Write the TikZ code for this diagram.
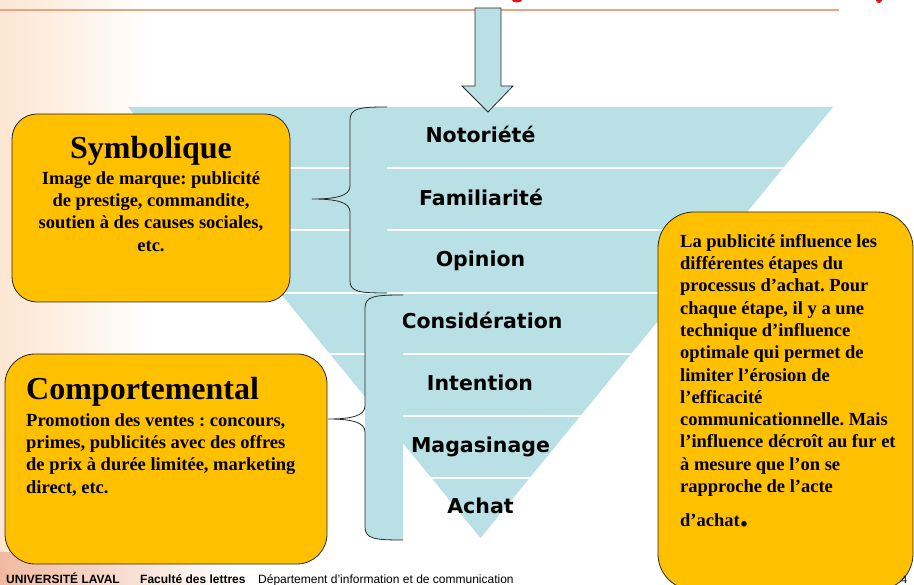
\documentclass[tikz,border=0pt]{standalone}
\usepackage{fontspec}
\setmainfont{Liberation Serif}
\newfontfamily\labfont{DejaVu Sans}
\newfontfamily\footfont{Liberation Sans}
\frenchspacing
\definecolor{funnelblue}{RGB}{185,224,228}
\definecolor{boxfill}{RGB}{255,192,0}
\definecolor{boxline}{RGB}{40,40,40}
\definecolor{salmon}{RGB}{236,163,130}
\definecolor{titlered}{RGB}{220,20,20}
\definecolor{bgA}{RGB}{253,230,210}
\definecolor{bgB}{RGB}{242,185,160}
\tikzset{
  box/.style={draw=boxline, fill=boxfill, line width=0.8pt, inner sep=0pt},
  lab/.style={font=\labfont\bfseries\fontsize{20.5}{24}\selectfont, anchor=base, inner sep=0pt},
  bodytxt/.style={font=\bfseries\fontsize{18.5}{22.3}\selectfont, inner sep=0pt},
  titletxt/.style={font=\bfseries\fontsize{32}{36}\selectfont, inner sep=0pt},
  bracefill/.style={fill=funnelblue},
  bracedraw/.style={draw=boxline, line width=0.8pt},
  arrowstyle/.style={draw=boxline, fill=funnelblue, line width=0.8pt, line join=miter},
  foot/.style={font=\footfont\fontsize{12}{14}\selectfont, inner sep=0pt, anchor=base west}
}
\begin{document}
\begin{tikzpicture}[x=1pt,y=-1pt]
\useasboundingbox (0,0) rectangle (914,585);
\clip (0,0) rectangle (914,585);
% background
\fill[white] (0,0) rectangle (914,585);
\shade[left color=bgA, right color=white] (0,0) rectangle (150,585);
\shade[left color=bgB, right color=white] (0,552) rectangle (240,585);
% top rule and title fragments
\draw[salmon, line width=2.2pt] (0,10) -- (839,10);
\fill[titlered] (517,0) ellipse [x radius=5pt, y radius=2.5pt];
\fill[titlered] (879,0) ellipse [x radius=3pt, y radius=3pt];
% funnel
\coordinate (ftl) at (128,107);
\coordinate (ftr) at (833,107);
\coordinate (fap) at (480.5,538);
\fill[funnelblue] (ftl) -- (ftr) -- (fap) -- cycle;
\begin{scope}
  \clip (ftl) -- (ftr) -- (fap) -- cycle;
  \foreach \yy in {168,230,293,354,416,478}
    \draw[white, line width=2.5pt] (0,\yy) -- (914,\yy);
\end{scope}
% stage labels
\node[lab] (l1) at (480.5,143) {Notoriété};
\node[lab] (l2) at (481,206) {Familiarité};
\node[lab] (l3) at (480.5,267) {Opinion};
\node[lab] (l4) at (482,329) {Considération};
\node[lab] (l5) at (480,391) {Intention};
\node[lab] (l6) at (480.5,453) {Magasinage};
\node[lab] (l7) at (480.5,514) {Achat};
% upper brace
\fill[bracefill] (387,107) .. controls (360,107) and (350,108) .. (350,120)
  -- (350,281) .. controls (350,292) and (360,293) .. (387,293) -- cycle;
\draw[bracedraw] (387,107) .. controls (360,107) and (350,108) .. (350,120)
  -- (350,186) .. controls (350,196) and (336,199) .. (312,199)
  .. controls (336,199) and (350,202) .. (350,212)
  -- (350,281) .. controls (350,292) and (360,293) .. (387,293);
% lower brace
\fill[bracefill] (403,295) .. controls (375,295) and (365,296) .. (365,308)
  -- (365,527) .. controls (365,539) and (375,540) .. (403,540) -- cycle;
\draw[bracedraw] (403,295) .. controls (375,295) and (365,296) .. (365,308)
  -- (365,406) .. controls (365,416) and (351,419) .. (328,419)
  .. controls (351,419) and (365,422) .. (365,432)
  -- (365,527) .. controls (365,539) and (375,540) .. (403,540);
% arrow
\draw[arrowstyle] (475,8) -- (501,8) -- (501,86) -- (513,86) -- (488,112) -- (462,86) -- (475,86) -- cycle;
% boxes
\node[box, rounded corners=25pt, minimum width=278pt, minimum height=188pt] (sym) at (151,208) {};
\node[box, rounded corners=30pt, minimum width=322pt, minimum height=210pt] (comp) at (166,459) {};
\node[box, rounded corners=36pt, minimum width=255pt, minimum height=378pt] (note) at (785.5,401) {};
% box texts
\node[titletxt, anchor=base] (symtitle) at (151,159) {Symbolique};
\node[bodytxt, anchor=north, align=center] (symbody) at (151,170)
  {\rule{0pt}{14pt}Image de marque: publicité\\de prestige, commandite,\\soutien à des causes sociales,\\etc.};
\node[titletxt, anchor=base west] (comptitle) at (26,400) {Comportemental};
\node[bodytxt, anchor=north west, align=left] (compbody) at (26,412)
  {\rule{0pt}{14pt}Promotion des ventes : concours,\\primes, publicités avec des offres\\de prix à durée limitée, marketing\\direct, etc.};
\node[bodytxt, anchor=north west, align=left] (notebody) at (680,233)
  {\rule{0pt}{14pt}La publicité influence les\\différentes étapes du\\processus d’achat. Pour\\chaque étape, il y a une\\technique d’influence\\optimale qui permet de\\limiter l’érosion de\\l’efficacité\\communicationnelle. Mais\\l’influence décroît au fur et\\à mesure que l’on se\\rapproche de l’acte\\[11.6pt]d’achat{\fontsize{34}{22}\selectfont.}};
% footer
\node[foot, font=\footfont\bfseries\fontsize{12}{14}\selectfont] (ul) at (6,583) {UNIVERSITÉ LAVAL};
\node[foot, font=\footfont\bfseries\fontsize{12}{14}\selectfont] (fl) at (140,583) {Faculté des lettres};
\node[foot] (dep) at (258,583) {Département d’information et de communication};
\node[foot, font=\footfont\fontsize{11}{13}\selectfont] (pg) at (901,583) {4};
\end{tikzpicture}
\end{document}
